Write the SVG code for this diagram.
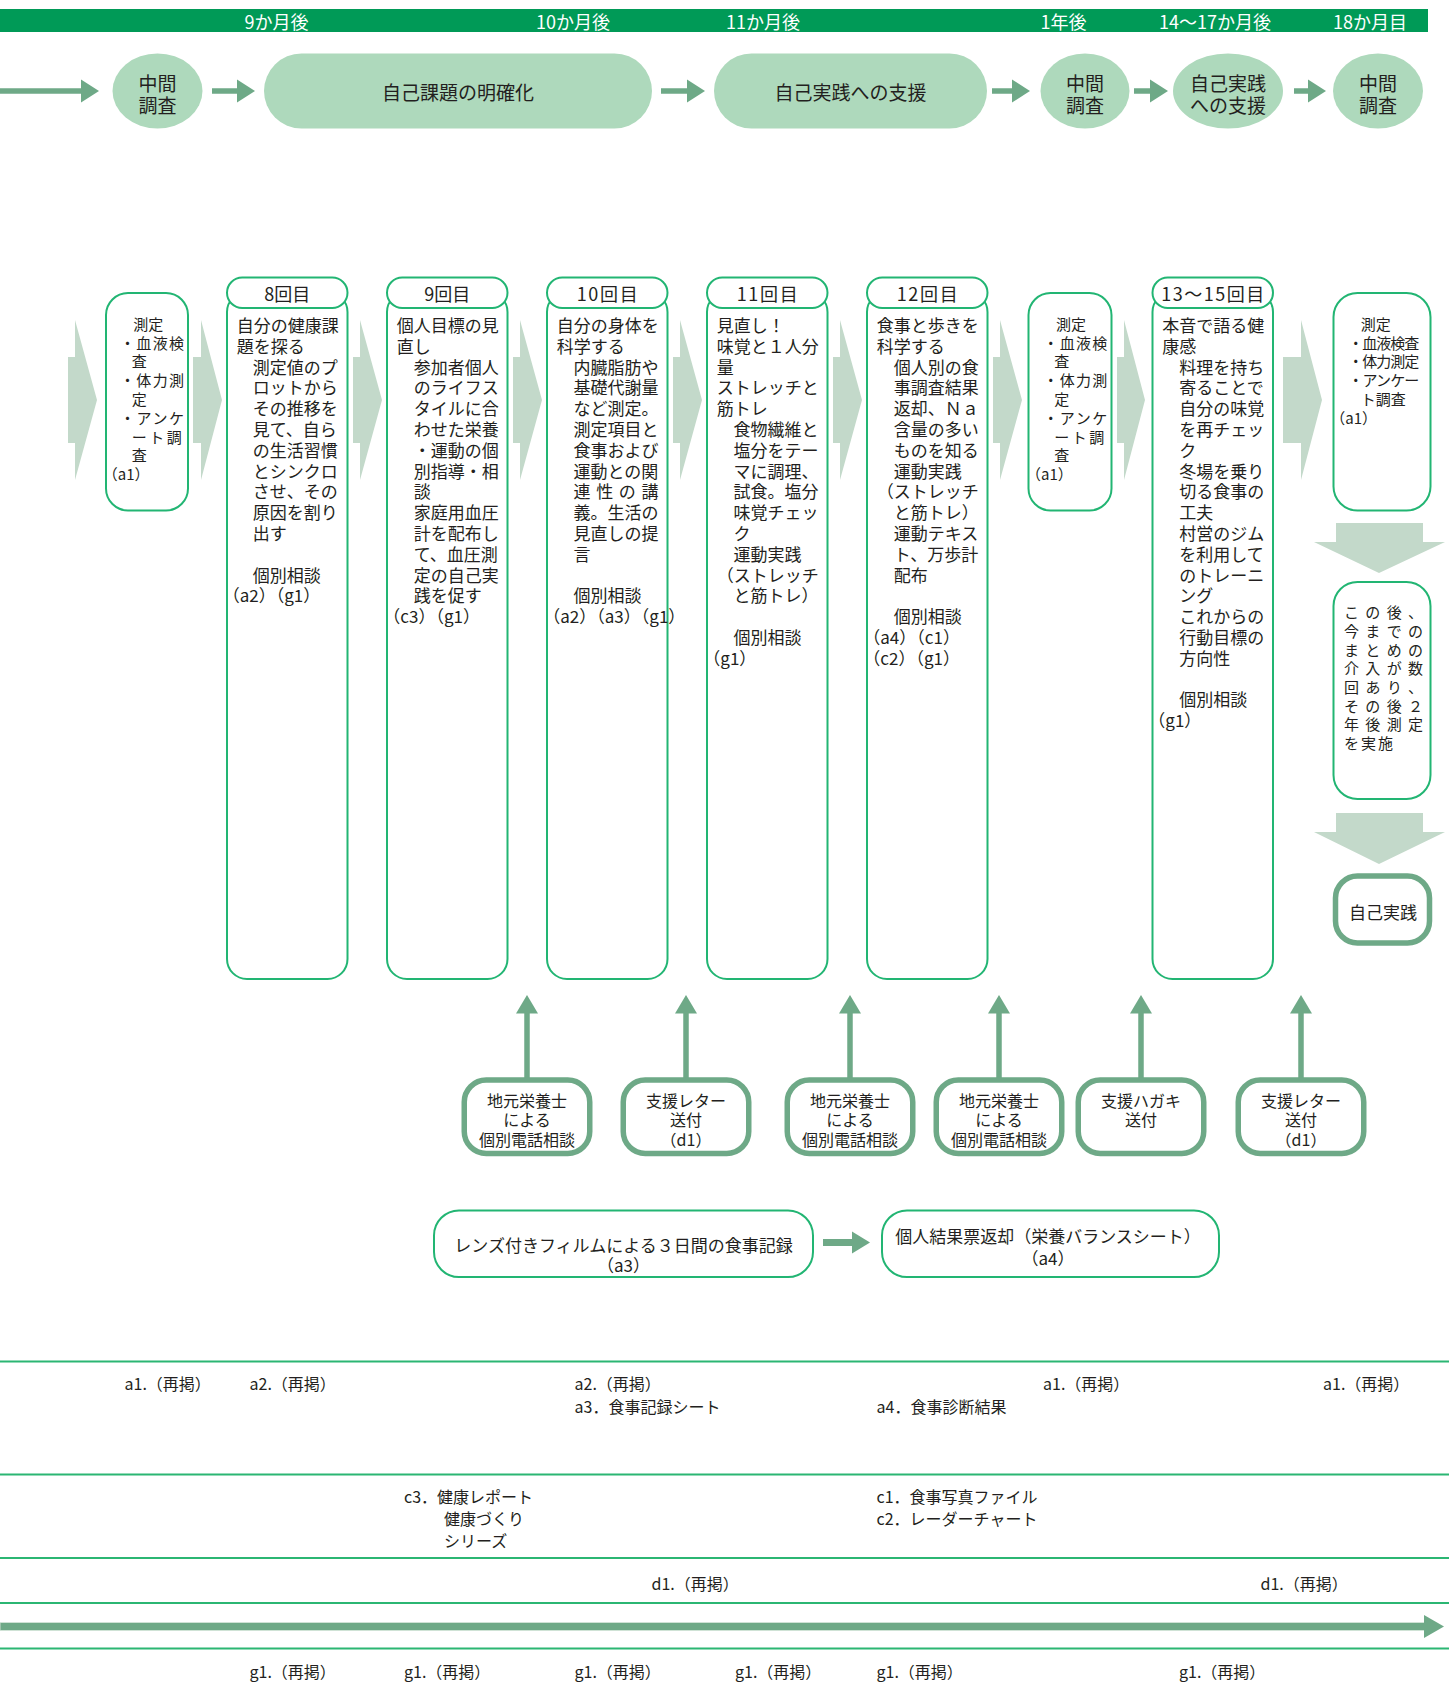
<svg xmlns="http://www.w3.org/2000/svg" width="1449" height="1687" viewBox="0 0 1449 1687">
<defs>
<style>
text{font-family:"Noto Sans CJK JP","Noto Sans CJK SC",sans-serif;fill:#231f20;dominant-baseline:central}
.bar{font-size:18px;fill:#fff;text-anchor:middle}
.top{fill:#aed9bc}
.tt{font-size:19px;text-anchor:middle}
.arr{fill:#6ea987}
.arrl{stroke:#6ea987;stroke-width:5.5;fill:none}
.chev{fill:#c3d9ca}
.box{fill:#fff;stroke:#22b573;stroke-width:2}
.hd{font-size:18px;text-anchor:middle}
.b17{font-size:17px}
.b15{font-size:15px}
.nb{fill:#fff;stroke:#6ea987;stroke-width:5.5}
.nt{font-size:16px;text-anchor:middle}
.lt{font-size:17px;text-anchor:middle}
.rule{stroke:#2bb673;stroke-width:2}
.ft{font-size:16px}
</style>
</defs>
<rect x="0" y="0" width="1449" height="1687" fill="#fff"/>

<g id="timeline">
<rect x="0" y="9" width="1428" height="23" fill="#009a57"/>
<text class="bar" x="276.5" y="21">9か月後</text>
<text class="bar" x="573" y="21">10か月後</text>
<text class="bar" x="763" y="21">11か月後</text>
<text class="bar" x="1063.5" y="21">1年後</text>
<text class="bar" x="1215" y="21">14～17か月後</text>
<text class="bar" x="1370" y="21">18か月目</text>
</g>

<g id="connectors">
<line class="arrl" x1="0" y1="91" x2="82" y2="91"/><polygon class="arr" points="81,79.5 99,91 81,102.5"/>
<line class="arrl" x1="212" y1="91" x2="238" y2="91"/><polygon class="arr" points="237,79.5 255,91 237,102.5"/>
<line class="arrl" x1="661" y1="91" x2="688" y2="91"/><polygon class="arr" points="687,79.5 705,91 687,102.5"/>
<line class="arrl" x1="992" y1="91" x2="1013" y2="91"/><polygon class="arr" points="1012,79.5 1030,91 1012,102.5"/>
<line class="arrl" x1="1134" y1="91" x2="1151" y2="91"/><polygon class="arr" points="1150,79.5 1168,91 1150,102.5"/>
<line class="arrl" x1="1294" y1="91" x2="1309" y2="91"/><polygon class="arr" points="1308,79.5 1326,91 1308,102.5"/>
<polygon class="chev" points="68,357 75,357 75,320 97,400 75,480 75,443 68,443"/>
<polygon class="chev" points="193,357 201,357 201,320 222,400 201,480 201,443 193,443"/>
<polygon class="chev" points="353,357 360,357 360,320 382,400 360,480 360,443 353,443"/>
<polygon class="chev" points="513,357 520,357 520,320 542,400 520,480 520,443 513,443"/>
<polygon class="chev" points="673,357 680,357 680,320 702,400 680,480 680,443 673,443"/>
<polygon class="chev" points="833,357 840,357 840,320 862,400 840,480 840,443 833,443"/>
<polygon class="chev" points="993,357 1000,357 1000,320 1022,400 1000,480 1000,443 993,443"/>
<polygon class="chev" points="1117,357 1124,357 1124,320 1145,400 1124,480 1124,443 1117,443"/>
<polygon class="chev" points="1283,357 1301,357 1301,320 1322,400 1301,480 1301,443 1283,443"/>
<polygon class="chev" points="1336,523 1423,523 1423,542 1445,542 1379,573 1314,542 1336,542"/>
<polygon class="chev" points="1336,813 1423,813 1423,832 1445,832 1379,864 1314,832 1336,832"/>
<line class="arrl" x1="527" y1="1079" x2="527" y2="1012"/><polygon class="arr" points="516,1013.5 527,995 538,1013.5"/>
<line class="arrl" x1="686" y1="1079" x2="686" y2="1012"/><polygon class="arr" points="675,1013.5 686,995 697,1013.5"/>
<line class="arrl" x1="850" y1="1079" x2="850" y2="1012"/><polygon class="arr" points="839,1013.5 850,995 861,1013.5"/>
<line class="arrl" x1="999" y1="1079" x2="999" y2="1012"/><polygon class="arr" points="988,1013.5 999,995 1010,1013.5"/>
<line class="arrl" x1="1141" y1="1079" x2="1141" y2="1012"/><polygon class="arr" points="1130,1013.5 1141,995 1152,1013.5"/>
<line class="arrl" x1="1301" y1="1079" x2="1301" y2="1012"/><polygon class="arr" points="1290,1013.5 1301,995 1312,1013.5"/>
<line x1="823" y1="1242.5" x2="853" y2="1242.5" stroke="#6ea987" stroke-width="7"/><polygon class="arr" points="852,1231.5 870,1242.5 852,1253.5"/>
<rect x="0" y="1622.5" width="1426" height="8" fill="#6ea987" stroke="#cfe2d5" stroke-width="1"/>
<polygon class="arr" points="1424,1615 1444,1626.5 1424,1638"/>
</g>

<g id="top-nodes">
<g id="t1"><ellipse class="top" cx="157.5" cy="91" rx="45" ry="37.5"/><text class="tt" x="157.5" y="82">中間</text><text class="tt" x="157.5" y="104.5">調査</text></g>
<g id="t2"><rect class="top" x="264" y="53.5" width="388" height="75" rx="37.5"/><text class="tt" x="458" y="91">自己課題の明確化</text></g>
<g id="t3"><rect class="top" x="714" y="53.5" width="273" height="75" rx="37.5"/><text class="tt" x="850.5" y="91">自己実践への支援</text></g>
<g id="t4"><ellipse class="top" cx="1085" cy="91" rx="44.5" ry="37.5"/><text class="tt" x="1085" y="82">中間</text><text class="tt" x="1085" y="104.5">調査</text></g>
<g id="t5"><ellipse class="top" cx="1228" cy="91" rx="55" ry="37.5"/><text class="tt" x="1228" y="82">自己実践</text><text class="tt" x="1228" y="104.5">への支援</text></g>
<g id="t6"><ellipse class="top" cx="1378" cy="91" rx="45" ry="37.5"/><text class="tt" x="1378" y="82">中間</text><text class="tt" x="1378" y="104.5">調査</text></g>
</g>

<g id="m1">
<rect class="box" x="106" y="293" width="82" height="217.5" rx="22"/>
<text class="b15" x="133.3" y="323.3">測定</text>
<text class="b15" x="120" y="342.1" textLength="64">・血液検</text>
<text class="b15" x="131.7" y="360.9">査</text>
<text class="b15" x="120" y="379.7" textLength="64">・体力測</text>
<text class="b15" x="131.7" y="398.5">定</text>
<text class="b15" x="120" y="417.3" textLength="64">・アンケ</text>
<text class="b15" x="131.7" y="436.1" textLength="50">ート調</text>
<text class="b15" x="131.7" y="454.9">査</text>
<text class="b15" x="102.7" y="473.7">（a1）</text>
</g>

<g id="s8">
<rect class="box" x="227" y="292" width="120.5" height="687" rx="20"/>
<rect class="box" x="227" y="277.5" width="120.5" height="30.5" rx="15.25"/>
<text class="hd" x="287.2" y="292.7">8回目</text>
<text class="b17"><tspan x="236.7" y="324">自分の健康課</tspan><tspan x="236.7" y="344.8">題を探る</tspan><tspan x="252.7" y="365.6">測定値のプ</tspan><tspan x="252.7" y="386.4">ロットから</tspan><tspan x="252.7" y="407.2">その推移を</tspan><tspan x="252.7" y="428">見て、自ら</tspan><tspan x="252.7" y="448.8">の生活習慣</tspan><tspan x="252.7" y="469.6">とシンクロ</tspan><tspan x="252.7" y="490.4">させ、その</tspan><tspan x="252.7" y="511.2">原因を割り</tspan><tspan x="252.7" y="532">出す</tspan><tspan x="252.7" y="573.6">個別相談</tspan><tspan x="222.7" y="594.4">（a2）（g1）</tspan></text>
</g>

<g id="s9">
<rect class="box" x="387" y="292" width="120.5" height="687" rx="20"/>
<rect class="box" x="387" y="277.5" width="120.5" height="30.5" rx="15.25"/>
<text class="hd" x="447.2" y="292.7">9回目</text>
<text class="b17"><tspan x="396.7" y="324">個人目標の見</tspan><tspan x="396.7" y="344.8">直し</tspan><tspan x="413.7" y="365.6">参加者個人</tspan><tspan x="413.7" y="386.4">のライフス</tspan><tspan x="413.7" y="407.2">タイルに合</tspan><tspan x="413.7" y="428">わせた栄養</tspan><tspan x="413.7" y="448.8">・運動の個</tspan><tspan x="413.7" y="469.6">別指導・相</tspan><tspan x="413.7" y="490.4">談</tspan><tspan x="413.7" y="511.2">家庭用血圧</tspan><tspan x="413.7" y="532">計を配布し</tspan><tspan x="413.7" y="552.8">て、血圧測</tspan><tspan x="413.7" y="573.6">定の自己実</tspan><tspan x="413.7" y="594.4">践を促す</tspan><tspan x="383.3" y="615.2">（c3）（g1）</tspan></text>
</g>

<g id="s10">
<rect class="box" x="547" y="292" width="120.5" height="687" rx="20"/>
<rect class="box" x="547" y="277.5" width="120.5" height="30.5" rx="15.25"/>
<text class="hd" x="607.2" y="292.7" textLength="61">10回目</text>
<text class="b17"><tspan x="556.7" y="324">自分の身体を</tspan><tspan x="556.7" y="344.8">科学する</tspan><tspan x="573.5" y="365.6">内臓脂肪や</tspan><tspan x="573.5" y="386.4">基礎代謝量</tspan><tspan x="573.5" y="407.2">など測定。</tspan><tspan x="573.5" y="428">測定項目と</tspan><tspan x="573.5" y="448.8">食事および</tspan><tspan x="573.5" y="469.6">運動との関</tspan></text>
<text class="b17" x="573.5" y="490.4" textLength="85">連性の講</text>
<text class="b17"><tspan x="573.5" y="511.2">義。生活の</tspan><tspan x="573.5" y="532">見直しの提</tspan><tspan x="573.5" y="552.8">言</tspan><tspan x="573.5" y="594.4">個別相談</tspan><tspan x="543.3" y="615.2">（a2）（a3）（g1）</tspan></text>
</g>

<g id="s11">
<rect class="box" x="707" y="292" width="120.5" height="687" rx="20"/>
<rect class="box" x="707" y="277.5" width="120.5" height="30.5" rx="15.25"/>
<text class="hd" x="767.2" y="292.7" textLength="61">11回目</text>
<text class="b17"><tspan x="716.7" y="324">見直し！</tspan><tspan x="716.7" y="344.8">味覚と１人分</tspan><tspan x="716.7" y="365.6">量</tspan><tspan x="716.7" y="386.4">ストレッチと</tspan><tspan x="716.7" y="407.2">筋トレ</tspan><tspan x="733.5" y="428">食物繊維と</tspan><tspan x="733.5" y="448.8">塩分をテー</tspan><tspan x="733.5" y="469.6">マに調理、</tspan><tspan x="733.5" y="490.4">試食。塩分</tspan><tspan x="733.5" y="511.2">味覚チェッ</tspan><tspan x="733.5" y="532">ク</tspan><tspan x="733.5" y="552.8">運動実践</tspan><tspan x="716.7" y="573.6">（ストレッチ</tspan><tspan x="733.5" y="594.4">と筋トレ）</tspan><tspan x="733.5" y="636">個別相談</tspan><tspan x="703.3" y="656.8">（g1）</tspan></text>
</g>

<g id="s12">
<rect class="box" x="867" y="292" width="120.5" height="687" rx="20"/>
<rect class="box" x="867" y="277.5" width="120.5" height="30.5" rx="15.25"/>
<text class="hd" x="927.2" y="292.7" textLength="61">12回目</text>
<text class="b17"><tspan x="876.7" y="324">食事と歩きを</tspan><tspan x="876.7" y="344.8">科学する</tspan><tspan x="893.7" y="365.6">個人別の食</tspan><tspan x="893.7" y="386.4">事調査結果</tspan></text>
<text class="b17" x="893.7" y="407.2" textLength="85">返却、Ｎａ</text>
<text class="b17"><tspan x="893.7" y="428">含量の多い</tspan><tspan x="893.7" y="448.8">ものを知る</tspan><tspan x="893.7" y="469.6">運動実践</tspan><tspan x="876.7" y="490.4">（ストレッチ</tspan><tspan x="893.7" y="511.2">と筋トレ）</tspan><tspan x="893.7" y="532">運動テキス</tspan><tspan x="893.7" y="552.8">ト、万歩計</tspan><tspan x="893.7" y="573.6">配布</tspan><tspan x="893.7" y="615.2">個別相談</tspan><tspan x="863.3" y="636">（a4）（c1）</tspan><tspan x="863.3" y="656.8">（c2）（g1）</tspan></text>
</g>

<g id="m2">
<rect class="box" x="1028.5" y="293" width="83" height="217.5" rx="22"/>
<text class="b15" x="1056" y="323.3">測定</text>
<text class="b15" x="1043.3" y="342.1" textLength="64">・血液検</text>
<text class="b15" x="1054.3" y="360.9">査</text>
<text class="b15" x="1043.3" y="379.7" textLength="64">・体力測</text>
<text class="b15" x="1054.3" y="398.5">定</text>
<text class="b15" x="1043.3" y="417.3" textLength="64">・アンケ</text>
<text class="b15" x="1054.3" y="436.1" textLength="50">ート調</text>
<text class="b15" x="1054.3" y="454.9">査</text>
<text class="b15" x="1026" y="473.7">（a1）</text>
</g>

<g id="s13">
<rect class="box" x="1152.5" y="292" width="120.5" height="687" rx="20"/>
<rect class="box" x="1152.5" y="277.5" width="120.5" height="30.5" rx="15.25"/>
<text class="hd" x="1212.7" y="292.7" textLength="103">13～15回目</text>
<text class="b17"><tspan x="1162.3" y="324">本音で語る健</tspan><tspan x="1162.3" y="344.8">康感</tspan><tspan x="1179.3" y="365.6">料理を持ち</tspan><tspan x="1179.3" y="386.4">寄ることで</tspan><tspan x="1179.3" y="407.2">自分の味覚</tspan><tspan x="1179.3" y="428">を再チェッ</tspan><tspan x="1179.3" y="448.8">ク</tspan><tspan x="1179.3" y="469.6">冬場を乗り</tspan><tspan x="1179.3" y="490.4">切る食事の</tspan><tspan x="1179.3" y="511.2">工夫</tspan><tspan x="1179.3" y="532">村営のジム</tspan><tspan x="1179.3" y="552.8">を利用して</tspan><tspan x="1179.3" y="573.6">のトレーニ</tspan><tspan x="1179.3" y="594.4">ング</tspan><tspan x="1179.3" y="615.2">これからの</tspan><tspan x="1179.3" y="636">行動目標の</tspan><tspan x="1179.3" y="656.8">方向性</tspan><tspan x="1179.3" y="698.4">個別相談</tspan><tspan x="1148.3" y="719.2">（g1）</tspan></text>
</g>

<g id="m3">
<rect class="box" x="1333.5" y="293" width="97" height="217.5" rx="24"/>
<text class="b15" x="1360.7" y="323.3">測定</text>
<text class="b15" x="1348.3" y="342.1" textLength="71">・血液検査</text>
<text class="b15" x="1348.3" y="360.9" textLength="71">・体力測定</text>
<text class="b15" x="1348.3" y="379.7" textLength="71">・アンケー</text>
<text class="b15" x="1360.7" y="398.5">ト調査</text>
<text class="b15" x="1330.3" y="417.3">（a1）</text>
</g>

<g id="after">
<rect class="box" x="1333.5" y="582" width="97" height="217" rx="24"/>
<text class="b15" x="1344" y="611.7" textLength="79">この後、</text>
<text class="b15" x="1344" y="630.4" textLength="79">今までの</text>
<text class="b15" x="1344" y="649.1" textLength="79">まとめの</text>
<text class="b15" x="1344" y="667.8" textLength="79">介入が数</text>
<text class="b15" x="1344" y="686.5" textLength="79">回あり、</text>
<text class="b15" x="1344" y="705.2" textLength="79">その後２</text>
<text class="b15" x="1344" y="723.9" textLength="79">年後測定</text>
<text class="b15" x="1344" y="742.6" textLength="49">を実施</text>
</g>

<g id="self">
<rect class="nb" x="1335.5" y="876" width="94" height="67" rx="22"/>
<text class="lt" x="1383" y="911.5">自己実践</text>
</g>

<g id="n1"><rect class="nb" x="464.25" y="1080" width="125.5" height="73.5" rx="22"/><text class="nt"><tspan x="527" y="1099.5">地元栄養士</tspan><tspan x="527" y="1119">による</tspan><tspan x="527" y="1138.5">個別電話相談</tspan></text></g>
<g id="n2"><rect class="nb" x="623.25" y="1080" width="125.5" height="73.5" rx="22"/><text class="nt"><tspan x="686" y="1099.5">支援レター</tspan><tspan x="686" y="1119">送付</tspan><tspan x="686" y="1138.5">（d1）</tspan></text></g>
<g id="n3"><rect class="nb" x="787.25" y="1080" width="125.5" height="73.5" rx="22"/><text class="nt"><tspan x="850" y="1099.5">地元栄養士</tspan><tspan x="850" y="1119">による</tspan><tspan x="850" y="1138.5">個別電話相談</tspan></text></g>
<g id="n4"><rect class="nb" x="936.25" y="1080" width="125.5" height="73.5" rx="22"/><text class="nt"><tspan x="999" y="1099.5">地元栄養士</tspan><tspan x="999" y="1119">による</tspan><tspan x="999" y="1138.5">個別電話相談</tspan></text></g>
<g id="n5"><rect class="nb" x="1078.25" y="1080" width="125.5" height="73.5" rx="22"/><text class="nt"><tspan x="1141" y="1099.5">支援ハガキ</tspan><tspan x="1141" y="1119">送付</tspan></text></g>
<g id="n6"><rect class="nb" x="1238.25" y="1080" width="125.5" height="73.5" rx="22"/><text class="nt"><tspan x="1301" y="1099.5">支援レター</tspan><tspan x="1301" y="1119">送付</tspan><tspan x="1301" y="1138.5">（d1）</tspan></text></g>

<g id="film">
<rect class="box" x="434" y="1210.5" width="379" height="66.5" rx="25"/>
<text class="lt"><tspan x="623.5" y="1244">レンズ付きフィルムによる３日間の食事記録</tspan><tspan x="623.5" y="1264">（a3）</tspan></text>
</g>
<g id="result">
<rect class="box" x="882" y="1210.5" width="337" height="66.5" rx="25"/>
<text class="lt"><tspan x="1048" y="1235">個人結果票返却（栄養バランスシート）</tspan><tspan x="1048" y="1256.5">（a4）</tspan></text>
</g>

<g id="table">
<line class="rule" x1="0" y1="1361.5" x2="1449" y2="1361.5"/>
<line class="rule" x1="0" y1="1474.5" x2="1449" y2="1474.5"/>
<line class="rule" x1="0" y1="1558" x2="1449" y2="1558"/>
<line class="rule" x1="0" y1="1603" x2="1449" y2="1603"/>
<line class="rule" x1="0" y1="1648.5" x2="1449" y2="1648.5"/>
<text class="ft" x="124.5" y="1383">a1.（再掲）</text>
<text class="ft" x="249.5" y="1383">a2.（再掲）</text>
<text class="ft" x="574.5" y="1383">a2.（再掲）</text>
<text class="ft" x="574.5" y="1406">a3．食事記録シート</text>
<text class="ft" x="876.5" y="1406">a4．食事診断結果</text>
<text class="ft" x="1043" y="1383">a1.（再掲）</text>
<text class="ft" x="1323" y="1383">a1.（再掲）</text>
<text class="ft"><tspan x="404" y="1496">c3．健康レポート</tspan><tspan x="444" y="1518">健康づくり</tspan><tspan x="444" y="1540">シリーズ</tspan></text>
<text class="ft"><tspan x="876.5" y="1496">c1．食事写真ファイル</tspan><tspan x="876.5" y="1518">c2．レーダーチャート</tspan></text>
<text class="ft" x="651.5" y="1583">d1.（再掲）</text>
<text class="ft" x="1260.5" y="1583">d1.（再掲）</text>
<text class="ft" x="249.5" y="1671">g1.（再掲）</text>
<text class="ft" x="404" y="1671">g1.（再掲）</text>
<text class="ft" x="574.5" y="1671">g1.（再掲）</text>
<text class="ft" x="735" y="1671">g1.（再掲）</text>
<text class="ft" x="876.5" y="1671">g1.（再掲）</text>
<text class="ft" x="1179" y="1671">g1.（再掲）</text>
</g>
</svg>
